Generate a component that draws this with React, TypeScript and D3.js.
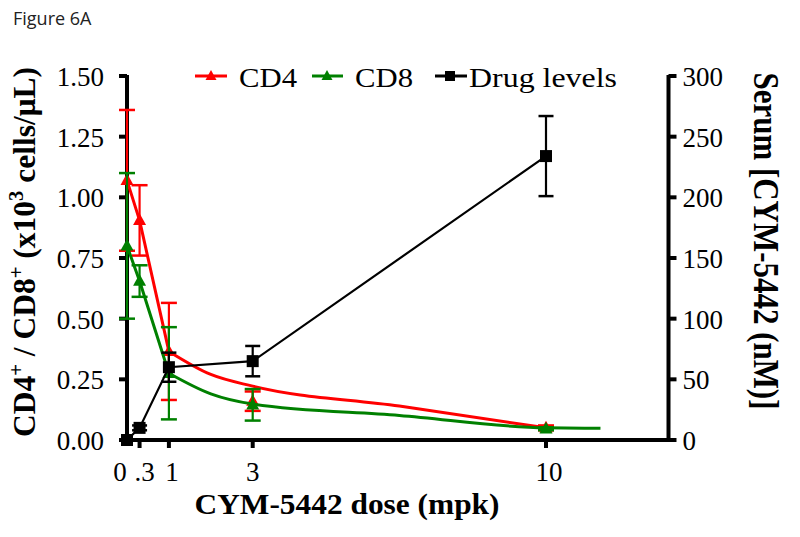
import React from 'react';
import * as d3 from 'd3';

const doses = [0, 0.3, 1, 3, 10];
const cd4Mean = [1.07, 0.905, 0.365, 0.16, 0.05];
const cd4Err = [0.29, 0.145, 0.2, 0.04, 0.01];
const cd8Mean = [0.8, 0.655, 0.275, 0.145, 0.046];
const cd8Err = [0.3, 0.065, 0.19, 0.065, 0.006];
const drugMean = [0, 10, 60, 65, 234];
const drugErr = [0, 2, 12, 12.5, 33];

// fitted curves
const cd4FitDoses = [0, 0.3, 1, 2, 3, 6.5, 10];
const cd4Fit = [1.07, 0.905, 0.365, 0.27, 0.222, 0.14, 0.05];
const cd8FitDoses = [0, 0.3, 1, 2, 3, 6.5, 10, 11.3];
const cd8Fit = [0.8, 0.655, 0.275, 0.19, 0.148, 0.101, 0.05, 0.048];

const leftTicks = [0, 0.25, 0.5, 0.75, 1.0, 1.25, 1.5];
const rightTicks = [0, 50, 100, 150, 200, 250, 300];
const xTickDoses = [0.3, 1, 3, 10];
const xLabelDoses = [0, 0.3, 1, 3, 10];
const xLabels = ['0', '.3', '1', '3', '10'];
const xLabelShift = [-7, 5, 3, 0, 3];

const RED = '#ff0000';
const GREEN = '#008000';
const BLACK = '#000000';
const SERIF = "'Liberation Serif', 'Times New Roman', serif";

const x = d3.scaleLinear().domain([0, 10]).range([127, 546]);
const xMax = x.invert(668.5);
const yL = d3.scaleLinear().domain([0, 1.5]).range([440, 76]);
const yR = d3.scaleLinear().domain([0, 300]).range([440, 76]);

function tri(cx: number, cy: number, s: number) {
  const h = s * 0.9;
  return `M${cx},${cy - h * 0.6}L${cx + s / 2},${cy + h * 0.4}L${cx - s / 2},${cy + h * 0.4}Z`;
}

function ErrBars({ xs, m, e, y, color, cap }: any) {
  return (
    <g stroke={color} strokeWidth={2.2} fill="none">
      {xs.map((d: number, i: number) => {
        if (e[i] <= 0) return null;
        const cx = x(d);
        const y1 = y(m[i] + e[i]);
        const y2 = y(m[i] - e[i]);
        return (
          <g key={i}>
            <line x1={cx} x2={cx} y1={y1} y2={y2} />
            <line x1={cx - cap} x2={cx + cap} y1={y1} y2={y1} strokeWidth={2.5} />
            <line x1={cx - cap} x2={cx + cap} y1={y2} y2={y2} strokeWidth={2.5} />
          </g>
        );
      })}
    </g>
  );
}

function fitPath(xs: number[], ys: number[]) {
  const pts = xs.map((d, i) => [d, ys[i]] as [number, number]);
  const k = xs.indexOf(1);
  const lin = d3.line<[number, number]>().x((d) => x(d[0])).y((d) => yL(d[1])).curve(d3.curveLinear);
  const mono = d3.line<[number, number]>().x((d) => x(d[0])).y((d) => yL(d[1])).curve(d3.curveMonotoneX);
  const head = lin(pts.slice(0, k + 1)) || '';
  const tail = (mono(pts.slice(k)) || '').replace(/^M[^LC]*/, '');
  return head + tail;
}

export default function App() {
  const redPath = fitPath(cd4FitDoses, cd4Fit);
  const greenPath = fitPath(cd8FitDoses, cd8Fit);
  const blackPath = d3
    .line<[number, number]>()
    .x((d) => x(d[0]))
    .y((d) => yR(d[1]))(doses.map((d, i) => [d, drugMean[i]] as [number, number]));

  return (
    <svg width={800} height={537} style={{ position: 'absolute', left: 0, top: 0, background: '#fff' }}>
      <rect width={800} height={537} fill="#fff" />
      <text x={13} y={25} fontFamily="'Open Sans', sans-serif" fontSize={18} fill="#222">
        Figure 6A
      </text>

      {/* axes */}
      <g stroke={BLACK} strokeWidth={4} fill="none">
        <line x1={x(0)} x2={x(0)} y1={yL(1.5) - 1} y2={yL(0) + 2} />
        <line x1={x(xMax)} x2={x(xMax)} y1={yR(300) - 1} y2={yR(0) + 2} />
        <line x1={x(0) - 2} x2={x(xMax) + 2} y1={yL(0)} y2={yL(0)} />
        {leftTicks.map((t) => (
          <line key={'l' + t} x1={x(0) - 8} x2={x(0)} y1={yL(t)} y2={yL(t)} />
        ))}
        {rightTicks.map((t) => (
          <line key={'r' + t} x1={x(xMax)} x2={x(xMax) + 8} y1={yR(t)} y2={yR(t)} />
        ))}
        {xTickDoses.map((t) => (
          <line key={'x' + t} x1={x(t)} x2={x(t)} y1={yL(0)} y2={yL(0) + 8} />
        ))}
      </g>

      <g fontFamily={SERIF} fontSize={27} fill={BLACK}>
        {leftTicks.map((t) => (
          <text key={'lt' + t} x={x(0) - 23} y={yL(t) + 10} textAnchor="end">
            {d3.format('.2f')(t)}
          </text>
        ))}
        {rightTicks.map((t) => (
          <text key={'rt' + t} x={x(xMax) + 14} y={yR(t) + 10} textAnchor="start">
            {String(t)}
          </text>
        ))}
        {xLabelDoses.map((t, i) => (
          <text key={'xt' + i} x={x(t) + xLabelShift[i]} y={481} textAnchor="middle">
            {xLabels[i]}
          </text>
        ))}
      </g>

      {/* titles */}
      <text x={347} y={514} textAnchor="middle" fontFamily={SERIF} fontWeight="bold" fontSize={30} textLength={305} lengthAdjust="spacingAndGlyphs">
        CYM-5442 dose (mpk)
      </text>
      <text transform="translate(754,241) rotate(90)" textAnchor="middle" fontFamily={SERIF} fontWeight="bold" fontSize={35} textLength={337} lengthAdjust="spacingAndGlyphs">
        Serum [CYM-5442 (nM)]
      </text>
      <text transform="translate(35,252) rotate(-90)" textAnchor="middle" fontFamily={SERIF} fontWeight="bold" fontSize={32} textLength={370} lengthAdjust="spacingAndGlyphs">
        CD4<tspan dy={-12} fontSize={21}>+</tspan>
        <tspan dy={12}> / CD8</tspan>
        <tspan dy={-12} fontSize={21}>+</tspan>
        <tspan dy={12}> (x10</tspan>
        <tspan dy={-12} fontSize={21}>3</tspan>
        <tspan dy={12}> cells/μL)</tspan>
      </text>

      {/* series */}
      <ErrBars xs={doses} m={cd4Mean} e={cd4Err} y={yL} color={RED} cap={8} />
      <path d={redPath} stroke={RED} strokeWidth={3} fill="none" strokeLinejoin="round" />
      <g fill={RED}>
        {doses.map((d, i) => (
          <path key={i} d={tri(x(d), yL(cd4Mean[i]), 13)} />
        ))}
      </g>
      <ErrBars xs={doses} m={cd8Mean} e={cd8Err} y={yL} color={GREEN} cap={8} />
      <path d={greenPath} stroke={GREEN} strokeWidth={3} fill="none" strokeLinejoin="round" />
      <g fill={GREEN}>
        {doses.map((d, i) => (
          <path key={i} d={tri(x(d), yL(cd8Mean[i]), 13)} />
        ))}
      </g>
      <ErrBars xs={doses} m={drugMean} e={drugErr} y={yR} color={BLACK} cap={7.5} />
      <path d={blackPath || ''} stroke={BLACK} strokeWidth={2.2} fill="none" />
      <g fill={BLACK}>
        {doses.map((d, i) => (
          <rect key={i} x={x(d) - 6} y={yR(drugMean[i]) - 6} width={12} height={12} />
        ))}
      </g>

      {/* legend */}
      <g fontFamily={SERIF} fontSize={28}>
        <line x1={195} x2={227} y1={76} y2={76} stroke={RED} strokeWidth={3} />
        <path d={tri(211, 76, 11)} fill={RED} />
        <text x={239} y={87} textLength={58} lengthAdjust="spacingAndGlyphs">CD4</text>
        <line x1={312} x2={343} y1={76} y2={76} stroke={GREEN} strokeWidth={3} />
        <path d={tri(327, 76, 11)} fill={GREEN} />
        <text x={355} y={87} textLength={58} lengthAdjust="spacingAndGlyphs">CD8</text>
        <line x1={435} x2={467} y1={76} y2={76} stroke={BLACK} strokeWidth={3} />
        <rect x={445} y={71} width={10} height={10} fill={BLACK} />
        <text x={469} y={87} textLength={148} lengthAdjust="spacingAndGlyphs">Drug levels</text>
      </g>
    </svg>
  );
}
